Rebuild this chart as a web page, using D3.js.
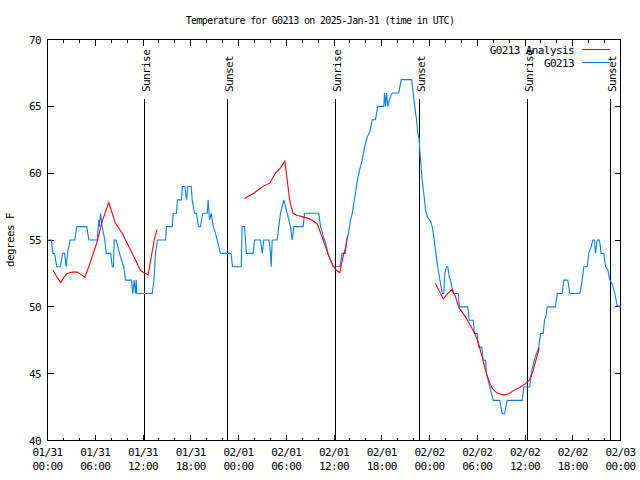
<!DOCTYPE html>
<html><head><meta charset="utf-8">
<script src="https://cdn.jsdelivr.net/npm/d3@7"></script>
<style>body{margin:0;background:#fff}</style>
</head><body><svg id="c" width="640" height="480"></svg>
<script>
const titleText = "Temperature for G0213 on 2025-Jan-31 (time in UTC)";
const yLabelText = "degrees F";
const seriesNames = ["G0213 Analysis", "G0213"];
const seriesColors = ["#ff0000", "#0080ff"];
// observed station temperature: hours since 2025-01-31 00:00 UTC, deg F
const obsHours = [0.00,0.50,0.67,0.88,1.17,1.63,1.88,2.14,2.35,2.51,2.85,3.43,3.68,4.94,5.19,6.03,6.24,6.45,6.53,6.66,6.87,7.20,7.38,7.95,8.13,8.29,8.38,8.63,9.05,9.30,9.59,9.80,10.55,10.72,10.89,11.06,11.15,11.22,13.16,13.38,13.57,13.82,14.83,14.95,15.67,15.79,16.21,16.33,16.84,16.93,17.25,17.47,17.63,18.06,18.18,18.47,18.72,18.97,19.22,19.51,20.07,20.19,20.36,20.57,20.82,21.11,21.32,21.52,21.74,22.78,23.06,23.25,24.34,24.46,24.75,25.00,25.85,26.01,26.76,26.98,27.18,27.83,28.02,28.11,28.23,28.86,29.06,29.28,29.69,29.91,30.12,30.32,30.53,30.75,30.95,31.38,32.13,32.29,34.09,34.30,34.55,34.81,35.06,35.22,35.56,35.90,36.73,37.03,37.44,37.57,37.82,38.07,38.29,38.49,38.70,38.91,39.24,39.54,39.87,40.17,40.50,40.80,41.21,41.50,42.26,42.35,42.47,42.60,42.76,42.97,43.31,44.14,44.44,45.74,45.95,46.15,46.37,46.53,46.71,46.78,46.87,47.08,47.28,47.50,47.71,48.13,48.34,48.54,48.75,48.97,49.17,49.38,49.60,49.80,49.92,50.14,50.30,50.47,50.64,50.80,50.98,51.61,51.77,52.81,52.99,53.49,53.65,53.99,54.16,54.57,54.75,55.04,55.16,55.58,56.00,56.83,57.13,57.42,57.76,59.65,59.85,60.60,60.78,61.11,61.44,61.73,61.95,62.29,62.45,62.64,62.79,63.83,64.05,64.67,64.88,65.38,65.63,66.89,67.19,67.39,67.82,68.02,68.32,68.52,68.73,68.86,69.07,69.36,69.57,69.90,70.11,70.40,70.66,70.96,71.28,71.58,72.00];
const obsTemp = [55,55,54,54,53,53,54,54,53,54,55,55,56,56,55,55,55,56.5,56,57,56,55,54,54,53,53,55,55,54,53.5,53,52,52,51,52,51,52,51,51,52,54,55,55,56,56,57,57,58,58,59,59,58,59,59,58,57,57,56,56,57,57,58,56.5,57,56,55.5,55,54.5,54,54,54,53,53,56,56,54,54,55,55,54,55,55,54,53,55,55,56,57,58,57.5,57,56.5,56,55,56,56,56,57,57,56,55.5,55,54.5,54,53.5,53,53,54,54,55,55.5,56.5,57,57.75,58.5,59.4,60.3,61,62,62.7,63.1,64,64,65,65,66,65,66,65,65.5,66,66,67,67,66,65,64,63,62.5,61.7,61,59.5,58.5,57.25,56.75,56.4,56,55.25,54.25,53.25,52.5,51.75,51,51,52.5,53,53,52.25,52,51.5,51,51,50,50,49,49,48,48,47,47,46,46,45,44,43,43,42,42,43,43,44,44,45,45.9,46.5,47,48,48,49,49.3,50,50,51,51,52,52,51,51,52,53,53,54,54.5,55,55,54,55,55,54,54,53,52.8,52,51.7,51,50.1,50];
// analysis series (null marks a gap)
const anaHours = [0.67,1.22,1.67,2.05,2.48,3.10,3.73,4.15,4.69,5.19,5.69,6.24,6.87,7.70,8.13,8.54,9.39,10.22,11.06,11.69,12.31,12.65,12.94,13.23,13.48,13.78,null,24.75,25.92,27.18,27.93,28.65,29.28,29.82,30.12,30.45,30.66,30.87,31.29,32.00,32.83,33.46,33.89,34.09,34.52,34.93,35.35,35.77,36.19,36.73,37.03,37.44,37.73,null,48.75,49.29,49.72,50.22,50.85,51.27,51.68,52.11,52.52,53.15,53.78,54.19,54.62,55.04,55.45,55.88,56.51,57.34,57.96,58.59,59.43,60.06,60.60,61.03,61.32,61.61,61.78];
const anaTemp = [52.75,52.2,51.8,52.2,52.5,52.6,52.6,52.45,52.2,53,53.9,54.9,56.4,57.8,57,56.25,55.5,54.5,53.5,52.7,52.5,52.4,53.4,54.4,55.2,55.8,null,58.1,58.5,59.05,59.25,60,60.4,60.9,59.5,57.9,57.4,57,56.85,56.75,56.6,56.4,56.2,55.9,55.2,54.5,53.8,53.2,52.8,52.55,53.5,54.4,55.3,null,51.75,51.1,50.6,50.95,51.3,50.75,49.95,49.6,49.25,48.6,47.9,47.2,46.25,45.25,44.5,43.9,43.55,43.4,43.5,43.75,44,44.25,44.55,45.25,45.9,46.5,47];
const sunHours = [12.22, 22.66, 36.22, 46.78, 60.30, 70.78];
const sunNames = ["Sunrise", "Sunset", "Sunrise", "Sunset", "Sunrise", "Sunset"];
const yTickValues = [40, 45, 50, 55, 60, 65, 70];
const startMs = Date.UTC(2025, 0, 31);
const spanHours = 72;

const font = "'DejaVu Sans Mono', monospace";
const svg = d3.select("#c").attr("font-family", font).attr("font-size", 11);
const L = 47.5, R = 620.5, T = 39.5, B = 440.5;
const toDate = h => new Date(startMs + h * 3600e3);
const x = d3.scaleUtc().domain([toDate(0), toDate(spanHours)]).range([L, R]);
const y = d3.scaleLinear().domain([40, 70]).range([B, T]);
const px = v => Math.round(v - 0.5) + 0.5;
const ls = "-0.6px";

// frame
svg.append("rect").attr("x", L).attr("y", T).attr("width", R - L).attr("height", B - T)
  .attr("fill", "none").attr("stroke", "#000").attr("shape-rendering", "crispEdges");

// x ticks
const major = d3.utcHour.every(6).range(toDate(0), toDate(spanHours + 0.01));
const minor = d3.utcHour.every(2).range(toDate(0), toDate(spanHours + 0.01));
const tg = svg.append("g").attr("stroke", "#000").attr("shape-rendering", "crispEdges");
minor.forEach(d => {
  const xx = px(x(d));
  const isMajor = d.getUTCHours() % 6 === 0;
  const len = isMajor ? 6 : 3;
  tg.append("line").attr("x1", xx).attr("x2", xx).attr("y1", B).attr("y2", B - len);
  tg.append("line").attr("x1", xx).attr("x2", xx).attr("y1", T).attr("y2", T + len);
});
const fmtDay = d3.utcFormat("%m/%d"), fmtTime = d3.utcFormat("%H:%M");
major.forEach(d => {
  const t = svg.append("text").attr("text-anchor", "middle").attr("letter-spacing", ls);
  t.append("tspan").attr("x", x(d)).attr("y", 456).text(fmtDay(d));
  t.append("tspan").attr("x", x(d)).attr("y", 470).text(fmtTime(d));
});
// y ticks
yTickValues.forEach(v => {
  const yy = px(y(v));
  tg.append("line").attr("x1", L).attr("x2", L + 6).attr("y1", yy).attr("y2", yy);
  tg.append("line").attr("x1", R).attr("x2", R - 6).attr("y1", yy).attr("y2", yy);
  svg.append("text").attr("x", 41).attr("y", y(v) + 4).attr("text-anchor", "end")
    .attr("letter-spacing", ls).text(v);
});

// sun lines
sunHours.forEach((h, i) => {
  const xx = px(x(toDate(h)));
  svg.append("line").attr("x1", xx).attr("x2", xx).attr("y1", 99).attr("y2", B)
    .attr("stroke", "#000").attr("shape-rendering", "crispEdges");
  svg.append("text").attr("transform", `translate(${xx + 5},92) rotate(-90)`)
    .attr("letter-spacing", ls).text(sunNames[i]);
});

// data lines
const obs = obsHours.map((h, i) => ({ t: toDate(h), v: obsTemp[i] }));
const ana = anaHours.map((h, i) => ({ t: h == null ? null : toDate(h), v: anaTemp[i] }));
const line = d3.line().defined(d => d.t != null && d.v != null).x(d => x(d.t)).y(d => y(d.v));
svg.append("path").datum(obs).attr("d", line).attr("fill", "none")
  .attr("stroke", seriesColors[1]).attr("stroke-width", 1.1);
svg.append("path").datum(ana).attr("d", line).attr("fill", "none")
  .attr("stroke", seriesColors[0]).attr("stroke-width", 1.1);

// legend
seriesNames.forEach((n, i) => {
  const yy = 50 + i * 13;
  svg.append("text").attr("x", 574).attr("y", yy + 4).attr("text-anchor", "end")
    .attr("letter-spacing", ls).text(n);
  svg.append("line").attr("x1", 582).attr("x2", 610).attr("y1", yy - 0.5).attr("y2", yy - 0.5)
    .attr("stroke", seriesColors[i]).attr("shape-rendering", "crispEdges");
});

// title & y label
svg.append("text").attr("x", 320).attr("y", 23.5).attr("text-anchor", "middle")
  .attr("font-size", 10).attr("letter-spacing", "-0.65px").text(titleText);
svg.append("text").attr("transform", "translate(14,240) rotate(-90)").attr("text-anchor", "middle")
  .attr("letter-spacing", ls).text(yLabelText);
</script></body></html>
